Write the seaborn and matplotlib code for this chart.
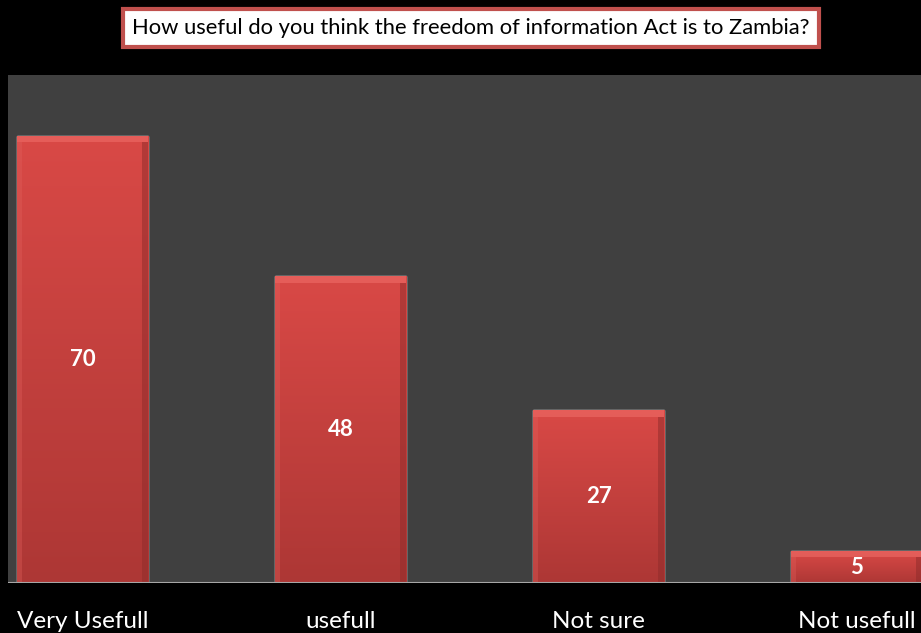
import numpy as np
import pandas as pd
import matplotlib.pyplot as plt
import seaborn as sns
from matplotlib.colors import LinearSegmentedColormap

categories = ['Very Usefull', 'usefull', 'Not sure', 'Not usefull']
counts = [70, 48, 27, 5]
title = 'How useful do you think the freedom of information Act is to Zambia?'

df = pd.DataFrame({'category': categories, 'count': counts})

sns.set_theme(style='dark')
plt.rcParams['font.family'] = ['Lato', 'DejaVu Sans']

fig = plt.figure(figsize=(9.21, 6.33), dpi=100, facecolor='black')
ax = fig.add_axes([8 / 921, 50 / 633, 1 - 8 / 921, 508 / 633])
ax.set_facecolor('#404040')

sns.barplot(data=df, x='category', y='count', color='#d04442', width=0.51,
            saturation=1, ax=ax)

# vertical gradient inside each bar, darker towards the bottom
cmap = LinearSegmentedColormap.from_list('bar', ['#ad3735', '#d94946'])
grad = np.linspace(0, 1, 256).reshape(-1, 1)
for p in ax.patches:
    x0, y0 = p.get_x(), p.get_y()
    w, h = p.get_width(), p.get_height()
    im = ax.imshow(grad, cmap=cmap, origin='lower', aspect='auto',
                   extent=[x0, x0 + w, y0, y0 + h], zorder=2)
    im.set_clip_path(p)
    # soft bevel: light top strip, darker right edge
    ax.fill_between([x0, x0 + w], y0 + h - 1.0, y0 + h, color='#f0706b',
                    zorder=3, linewidth=0, alpha=0.55)
    ax.fill_between([x0 + w - 0.025, x0 + w], y0, y0 + h - 1.0, color='#8e2c2b',
                    zorder=3, linewidth=0, alpha=0.5)
    ax.fill_between([x0, x0 + 0.02], y0, y0 + h - 1.0, color='#e0605c',
                    zorder=3, linewidth=0, alpha=0.35)
    ax.text(x0 + w / 2, y0 + h / 2, f'{int(h)}', color='white', ha='center',
            va='center', fontsize=16, fontweight='bold', zorder=4)

ax.set_xlim(-0.289, 3.25)
ax.set_ylim(0, 79.5)
ax.set_xlabel('')
ax.set_ylabel('')
ax.set_yticks([])
ax.grid(False)
for s in ax.spines.values():
    s.set_visible(False)
ax.axhline(0, color='#a6a6a6', linewidth=1.5, zorder=5)
ax.tick_params(axis='x', colors='white', labelsize=17.5, pad=20, length=0)
for lab in ax.get_xticklabels():
    lab.set_color('white')

fig.text(471 / 921, 1 - 28 / 633, title, ha='center', va='center',
         fontsize=15.8, color='black',
         bbox=dict(boxstyle='square,pad=0.4', facecolor='white',
                   edgecolor='#c0504d', linewidth=3))

fig.savefig('out.png', dpi=100, facecolor='black')
